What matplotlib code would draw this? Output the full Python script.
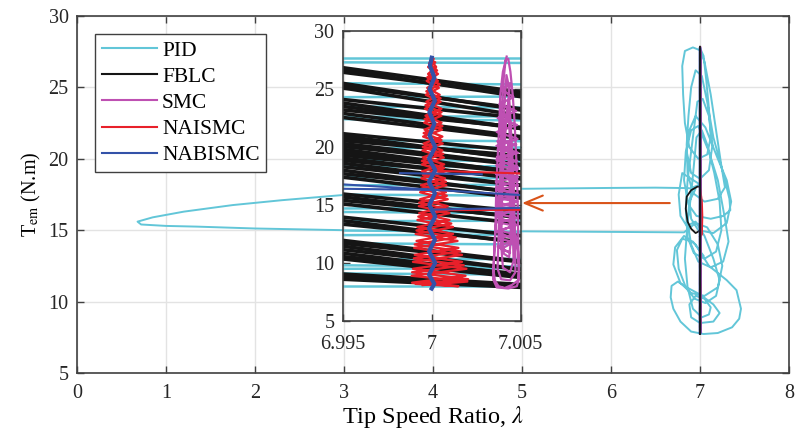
import numpy as np
import matplotlib.pyplot as plt
import matplotlib.transforms as mtransforms

plt.rcParams['font.family'] = ['Liberation Serif', 'DejaVu Serif']
plt.rcParams['mathtext.fontset'] = 'stix'
plt.rcParams['font.size'] = 14.5

# ---- data ----
# PID trajectory in the main axes (lambda, T_em)
pid_lam = [7.00, 7.04, 7.07, 7.10, 7.12, 7.08, 6.98, 6.88, 6.83, 6.81, 6.80, 6.83, 6.92, 7.00,
           7.05, 7.12, 7.18, 7.24, 7.28, 7.20, 7.05, 6.92, 6.86, 6.85, 6.87, 6.90, 6.95, 7.02,
           7.08, 7.15, 7.26, 7.33, 7.34, 7.26, 7.12, 6.96, 6.87, 6.82, 6.84, 6.90, 6.98,
           7.10, 7.20, 7.28, 7.32, 7.26, 7.12, 6.98, 6.90, 6.86, 6.88, 6.95, 6.85,
           6.50, 6.00, 5.00, 4.00, 3.00, 2.30, 1.75, 1.20, 0.85, 0.68, 0.72, 1.00, 1.35, 2.00,
           3.00, 4.00, 5.00, 6.00, 6.50, 6.82,
           6.95, 7.08, 7.20, 7.25, 7.20, 7.05, 6.90, 6.78, 6.70, 6.72, 6.82,
           6.95, 7.10, 7.30, 7.41, 7.46, 7.44, 7.36, 7.20, 7.04, 6.90, 6.78, 6.70, 6.67, 6.68, 6.75,
           6.85, 7.00, 7.15, 7.22, 7.15, 7.00, 6.90, 6.88, 6.95, 7.05, 7.12, 7.10, 7.02,
           6.92, 6.86, 6.83, 6.86, 6.90, 6.93, 6.96, 7.02,
           7.08, 7.16, 7.22, 7.24, 7.18, 7.05, 6.93, 6.86, 6.84, 6.86, 6.90, 6.94, 6.97, 7.03,
           7.10, 7.14, 7.10, 7.00, 6.90, 6.85, 6.88, 6.95,
           7.06, 7.20, 7.30, 7.35, 7.30, 7.15, 6.98, 6.90, 6.88, 6.92, 7.00,
           6.80, 6.76, 6.78, 6.85, 6.95, 7.05, 7.15, 7.22, 7.18, 7.06, 6.94, 6.84, 6.76, 6.74,
           6.80, 6.92, 7.04]
pid_T = [27.75, 27.2, 25.5, 23.5, 21.5, 20.3, 20.0, 20.8, 22.5, 24.5, 26.5, 27.55, 27.8, 27.6,
         26.8, 24.5, 22.0, 19.5, 18.0, 17.2, 17.0, 17.6, 19.0, 21.0, 23.0, 25.0, 26.2, 25.8,
         24.0, 21.5, 19.0, 17.2, 16.4, 16.0, 15.8, 16.0, 16.8, 18.5, 20.5, 22.0, 22.3,
         20.5, 18.5, 15.8, 14.2, 12.8, 12.4, 12.8, 14.0, 15.6, 17.0, 17.9, 17.95,
         17.98, 17.96, 17.9, 17.72, 17.47, 17.1, 16.76, 16.3, 15.9, 15.6, 15.4, 15.3, 15.25, 15.12,
         15.0, 14.95, 14.92, 14.88, 14.86, 14.85,
         15.5, 15.2, 14.0, 12.5, 11.0, 10.4, 10.6, 11.3, 12.6, 13.8, 14.6,
         14.0, 12.5, 11.5, 10.8, 9.5, 8.8, 8.2, 7.8, 7.73, 7.9, 8.6, 9.5, 10.3, 11.1, 11.4,
         11.0, 10.5, 9.8, 9.2, 8.6, 8.5, 8.9, 9.8, 10.4, 10.2, 9.6, 9.1, 8.9,
         9.5, 11.0, 13.0, 15.5, 17.5, 19.5, 21.5, 22.0,
         21.0, 19.0, 17.0, 15.0, 13.5, 13.0, 13.4, 14.5, 16.5, 18.5, 20.5, 22.5, 24.0, 24.2,
         23.0, 21.0, 19.2, 18.6, 19.0, 20.5, 22.0, 23.0,
         22.2, 20.0, 18.5, 17.0, 15.5, 14.8, 15.0, 15.8, 17.0, 18.0, 18.2,
         19.0, 17.5, 16.0, 15.3, 15.6, 14.6, 13.0, 11.5, 10.4, 9.9, 10.2, 11.0, 12.3, 13.6,
         14.4, 14.2, 13.2]

# FBLC trajectory in the main axes
fblc_lam = [7.0, 7.0, 6.97, 6.90, 6.85, 6.84, 6.86, 6.90, 6.95, 6.98, 7.0, 7.0]
fblc_T = [27.85, 18.05, 18.05, 17.8, 17.35, 16.5, 15.6, 15.1, 14.8, 14.9, 15.0, 7.75]

# zoomed view: PID crossings (T at left / right edge of the inset)
pid_zoom_left = [27.7, 27.3, 25.5, 24.3, 23.5, 22.6, 22.4, 20.6, 19.9, 18.9, 18.3, 17.4, 16.7,
                 15.9, 14.7, 14.4, 13.6, 12.8, 12.4, 11.7, 10.3, 9.8, 9.5, 9.1, 8.0]
pid_zoom_right = [27.7, 27.25, 25.4, 24.35, 23.4, 22.65, 22.3, 20.5, 19.95, 18.8, 18.35, 17.3, 16.75,
                  15.8, 14.75, 14.3, 13.65, 12.7, 12.45, 11.6, 10.35, 9.7, 9.55, 9.0, 8.0]

# zoomed view: FBLC crossings (T at left / right edge of the inset)
fblc_zoom_left = [26.84, 26.64, 26.45,
                  25.49, 25.30, 25.10,
                  24.10, 23.80, 23.50, 23.20, 22.90, 22.55,
                  21.15, 20.95, 20.75, 20.55, 20.30, 20.05, 19.80, 19.55, 19.30, 19.05,
                  18.85, 18.60, 18.30, 18.00, 17.70, 17.40,
                  15.95, 15.70, 15.40, 15.10,
                  13.95, 13.65, 13.35,
                  11.95, 11.70, 11.45, 11.15, 10.85, 10.55, 10.35,
                  9.05, 8.80, 8.60]
fblc_zoom_right = [24.74, 24.34, 24.55,
                   23.19, 23.30, 22.70,
                   22.50, 21.60, 21.60, 21.70, 20.90, 20.75,
                   19.65, 18.95, 19.05, 19.25, 18.50, 18.45, 17.80, 17.85, 17.80, 17.25,
                   17.35, 16.70, 16.70, 16.00, 16.10, 15.60,
                   14.45, 13.90, 14.00, 13.40,
                   12.35, 11.75, 11.85,
                   10.15, 10.10, 9.45, 9.45, 8.95, 9.05, 8.75,
                   8.15, 8.00, 7.90]

# SMC (lambda - 7, in units of 1e-3)
smc_dlam = [4.21, 4.0, 3.85, 3.8, 3.7, 3.62, 3.58, 3.5, 3.45, 3.65, 4.3, 4.78, 4.9, 4.88, 4.85,
            4.82, 4.75, 4.66, 4.55, 4.42, 4.3, 4.15,
            4.05, 3.95, 3.9, 3.85, 3.8, 3.75, 3.7, 3.9, 4.4, 4.7, 4.7, 4.65, 4.6, 4.5, 4.4, 4.3, 4.2,
            4.1, 4.0, 3.95, 3.9, 3.88, 4.0, 4.4, 4.6, 4.55, 4.5, 4.45, 4.35, 4.25,
            4.15, 4.05, 3.95, 3.92, 4.05, 4.35, 4.45, 4.42, 4.35, 4.28,
            3.68, 4.75, 3.7, 4.8, 3.65, 4.8, 3.62, 4.85, 3.6, 4.85, 3.6, 4.85, 3.62, 4.8,
            3.66, 4.8, 3.68, 4.78, 3.7, 4.75, 3.72, 4.7, 3.75, 4.65, 3.8, 4.6, 3.9, 4.4,
            3.7, 4.7, 3.68, 4.75, 3.66, 4.8, 3.64, 4.82, 3.63, 4.83, 3.62, 4.84, 3.62, 4.84,
            3.63, 4.82, 3.65, 4.8, 3.7, 4.75, 3.8, 4.6, 3.95, 4.4,
            3.58, 3.52, 3.47, 3.55, 3.75, 4.1, 4.5, 4.85, 4.9, 4.85, 4.7]
smc_T = [27.8, 26.5, 24.5, 22.0, 19.0, 16.0, 13.0, 10.5, 8.6, 7.9, 7.8, 8.0, 8.6, 10.5, 13.0,
         16.0, 19.0, 22.0, 24.5, 26.5, 27.6, 27.5,
         26.0, 23.5, 21.0, 18.0, 15.0, 12.0, 9.5, 8.6, 8.5, 9.2, 11.5, 14.0, 17.0, 20.0, 23.0, 25.5, 26.2,
         24.0, 21.0, 18.0, 15.0, 12.0, 9.6, 9.2, 10.2, 13.0, 16.0, 19.0, 22.0, 23.5,
         22.0, 19.0, 16.0, 13.0, 10.8, 10.5, 12.0, 15.0, 18.0, 20.5,
         20.5, 20.2, 19.8, 19.5, 19.1, 18.8, 18.4, 18.1, 17.7, 17.4, 17.0, 16.7, 16.3, 16.0,
         15.6, 15.3, 14.9, 14.6, 14.2, 13.9, 13.5, 13.2, 12.8, 12.5, 12.1, 11.8, 11.2, 10.9,
         11.4, 12.0, 12.7, 13.3, 14.0, 14.7, 15.3, 15.9, 16.5, 17.1, 17.7, 18.3, 18.9, 19.5,
         20.1, 20.7, 21.3, 21.9, 22.5, 23.1, 23.7, 24.3, 24.9, 25.5,
         13.0, 11.0, 9.4, 8.5, 8.0, 7.85, 8.1, 8.5, 9.5, 11.0, 12.5]

# NAISMC (lambda - 7, in units of 1e-3): oscillating column and its two crossings
naismc_dlam = [0.1, -0.15, 0.3, -0.25, 0.45, -0.3, 0.5, -0.35, 0.55, -0.4, 0.6, -0.45, 0.55, -0.5,
               0.65, -0.55, 0.7, -0.5, 0.8, -0.6, 0.85, -0.7, 0.95, -0.75, 1.1, -0.85, 1.35, -0.95,
               1.6, -1.0, 1.8, -1.1, 2.05, -0.9, 1.5,
               -1.1, 1.9, -1.05, 1.7, -0.95, 1.5, -0.85, 1.2, -0.8, 1.0, -0.7, 0.9, -0.65, 0.8,
               -0.6, 0.75, -0.55, 0.7, -0.5, 0.6, -0.45, 0.6, -0.4, 0.55, -0.35, 0.55, -0.3, 0.45,
               -0.25, 0.35, -0.2, 0.25, -0.05,
               0.2, -0.2, 0.35, -0.28, 0.4, -0.33, 0.5, -0.38, 0.55, -0.42, 0.58, -0.48, 0.62,
               -0.52, 0.68, -0.55, 0.75, -0.58, 0.82, -0.65, 0.9, -0.72, 1.0, -0.8, 1.2, -0.9,
               1.45, -0.98, 1.7, -1.05, 1.95, -1.12, 2.0, -0.5]
naismc_T = [27.6, 27.2, 26.6, 26.0, 25.4, 24.8, 24.2, 23.6, 23.0, 22.4, 21.8, 21.2, 20.6, 20.0,
            19.4, 18.8, 18.2, 17.6, 17.0, 16.4, 15.8, 15.2, 14.6, 14.0, 13.4, 12.8, 12.2, 11.6,
            11.0, 10.4, 9.8, 9.2, 8.6, 8.2, 8.0,
            8.3, 8.9, 9.5, 10.1, 10.7, 11.3, 11.9, 12.5, 13.1, 13.7, 14.3, 14.9, 15.5, 16.1,
            16.7, 17.3, 17.9, 18.5, 19.1, 19.7, 20.3, 20.9, 21.5, 22.1, 22.7, 23.3, 23.9, 24.5,
            25.1, 25.7, 26.3, 26.9, 27.5,
            27.3, 26.9, 26.3, 25.7, 25.1, 24.5, 23.9, 23.3, 22.7, 22.1, 21.5, 20.9, 20.3,
            19.7, 19.1, 18.5, 17.9, 17.3, 16.7, 16.1, 15.5, 14.9, 14.3, 13.7, 13.1, 12.5,
            11.9, 11.3, 10.7, 10.1, 9.5, 8.9, 8.4, 8.1]
naismc_cross_dlam = [0.0, 20.0, 25.0, 20.0, 0.0]
naismc_cross_T = [17.96, 17.0, 16.0, 14.7, 14.55]

# NABISMC (lambda - 7, in units of 1e-3): column and crossings (NaN separated)
nabismc_dlam = [0.0, -0.1, 0.15, -0.12, 0.18, -0.13, 0.15, -0.12, 0.2, -0.15, 0.2, -0.15, 0.18,
                -0.13, 0.2, -0.15, 0.18, -0.15, 0.2, -0.15, 0.15, 0.0]
nabismc_T = [27.7, 27.0, 26.0, 25.0, 24.0, 23.0, 22.0, 21.0, 20.0, 19.0, 18.0, 17.0, 16.0,
             15.0, 14.0, 13.0, 12.0, 11.0, 10.0, 9.0, 8.2, 7.8]
nabismc_cross_dlam = [-1.78, 2.81, np.nan, -10.0, 10.0, np.nan, -10.0, 0.0, np.nan, 0.0, 10.0]
nabismc_cross_T = [17.75, 17.64, np.nan, 17.24, 15.40, np.nan, 16.5, 16.3, np.nan, 14.6, 14.9]

labels = ['PID', 'FBLC', 'SMC', 'NAISMC', 'NABISMC']
colors = ['#62C6D8', '#151515', '#BE50B2', '#E8202A', '#3352A8']


def to_lam(d):
    return 7 + np.array(d) * 1e-3


SPINE = '#404040'
GRID = '#e3e3e3'
main_xticks = list(range(0, 9))
main_yticks = list(range(5, 31, 5))


def style_axes(ax):
    for s in ax.spines.values():
        s.set_color(SPINE)
        s.set_linewidth(1.2)
    ax.tick_params(direction='in', length=5, width=1.0, color=SPINE,
                   top=True, right=True, labelsize=14.5, labelcolor='#262626')


fig = plt.figure(figsize=(7.95, 4.36), dpi=100)
ax = fig.add_axes([0.0969, 0.1445, 0.8956, 0.8188])
style_axes(ax)
ax.grid(True, color=GRID, linewidth=1.0)
ax.set_axisbelow(True)
ax.tick_params(axis='x', pad=8)
ax.tick_params(axis='y', pad=6)

ax.plot(pid_lam, pid_T, color=colors[0], lw=1.4, label=labels[0])
ax.plot(fblc_lam, fblc_T, color=colors[1], lw=1.3, label=labels[1])
ax.plot(to_lam(smc_dlam), smc_T, color=colors[2], lw=1.5, label=labels[2])
ax.plot(to_lam(naismc_dlam), naismc_T, color=colors[3], lw=1.5, label=labels[3])
ax.plot(to_lam(naismc_cross_dlam), naismc_cross_T, color=colors[3], lw=1.5)
ax.plot(to_lam(nabismc_dlam), nabismc_T, color=colors[4], lw=2.0, label=labels[4])
ax.plot([7.0, 7.0], [7.75, 27.85], color=colors[1], lw=1.3)

ax.set_xlim(0, 8)
ax.set_ylim(5, 30)
ax.set_xticks(main_xticks)
ax.set_yticks(main_yticks)
ax.set_xlabel(r'Tip Speed Ratio, $\lambda$', fontsize=17.5, labelpad=1)
ax.set_ylabel(r'T$_{\mathrm{em}}$ (N.m)', fontsize=14.5, labelpad=4)

leg = ax.legend(loc='upper left', bbox_to_anchor=(0, 1), borderaxespad=0.85,
                fontsize=15.5, handlelength=2.55, handletextpad=0.25, labelspacing=0.28,
                borderpad=0.3, fancybox=False, framealpha=1)
leg.get_frame().set_edgecolor(SPINE)
leg.get_frame().set_linewidth(1.0)
for h in leg.get_lines():
    h.set_linewidth(1.5)

ax.annotate('', xy=(5.0, 16.9), xytext=(6.66, 16.9),
            arrowprops=dict(arrowstyle='->,head_length=0.65,head_width=0.27',
                            color='#D95319', lw=1.5, mutation_scale=20,
                            shrinkA=0, shrinkB=0))

# ---- inset ----
axi = fig.add_axes([0.431, 0.2638, 0.224, 0.665])
style_axes(axi)
axi.tick_params(axis='x', pad=10)
axi.tick_params(axis='y', pad=6)

# the main axes grid shows through the inset
tr_h = mtransforms.blended_transform_factory(axi.transAxes, ax.transData)
tr_v = mtransforms.blended_transform_factory(ax.transData, axi.transAxes)
for yv in main_yticks:
    axi.plot([0, 1], [yv, yv], transform=tr_h, color=GRID, lw=1.0, zorder=0.5)
for xv in main_xticks:
    axi.plot([xv, xv], [0, 1], transform=tr_v, color=GRID, lw=1.0, zorder=0.5)

xl, xr = 6.995, 7.005
for tl, tr in zip(pid_zoom_left, pid_zoom_right):
    axi.plot([xl, xr], [tl, tr], color=colors[0], lw=1.8)
for tl, tr in zip(fblc_zoom_left, fblc_zoom_right):
    axi.plot([xl, xr], [tl, tr], color=colors[1], lw=2.6)
axi.plot(to_lam(smc_dlam), smc_T, color=colors[2], lw=1.6)
axi.plot(to_lam(naismc_dlam), naismc_T, color=colors[3], lw=1.7)
axi.plot(to_lam(naismc_cross_dlam), naismc_cross_T, color=colors[3], lw=1.5)
axi.plot(to_lam(nabismc_cross_dlam), nabismc_cross_T, color=colors[4], lw=1.5)
axi.plot(to_lam(nabismc_dlam), nabismc_T, color=colors[4], lw=3.0)

axi.set_xlim(xl, xr)
axi.set_ylim(5, 30)
axi.set_xticks([6.995, 7.0, 7.005])
axi.set_xticklabels(['6.995', '7', '7.005'])
axi.set_yticks(range(5, 31, 5))

fig.savefig('out.png', dpi=100)
